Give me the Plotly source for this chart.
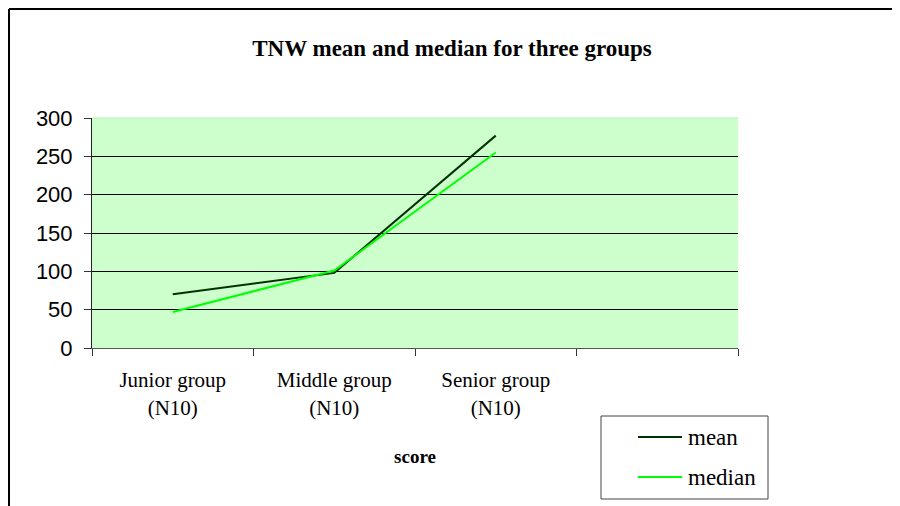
import plotly.graph_objects as go

# =====================================================
# DATA
# =====================================================

groups = ["Junior group<br>(N10)", "Middle group<br>(N10)", "Senior group<br>(N10)"]
slots = groups + [" "]

mean_vals = [70, 98, 277]
median_vals = [47, 101, 255]

series_names = ["mean", "median"]
series_colors = ["#003300", "#00FF00"]

# page offset (browser body margin) and figure size
OFF = 8
W, H = 900 - OFF, 506 - OFF

# plot area in page pixels
L, R, T, B = 92, 738, 118, 348


def px(x):
    return (x - L) / (R - L)


def py(y):
    return (B - y) / (B - T)


SERIF = "Liberation Serif, Times New Roman, serif"
SANS = "Liberation Sans, Arial, sans-serif"

fig = go.Figure()

for name, vals, col in zip(series_names, [mean_vals, median_vals], series_colors):
    fig.add_trace(
        go.Scatter(
            x=groups,
            y=vals,
            mode="lines",
            name=name,
            line=dict(color=col, width=2),
            showlegend=False,
        )
    )

# =====================================================
# LAYOUT
# =====================================================

fig.update_layout(
    width=W,
    height=H,
    margin=dict(l=L - OFF, r=W - (R - OFF), t=T - OFF, b=H - (B - OFF)),
    paper_bgcolor="white",
    plot_bgcolor="#CCFFCC",
    title=dict(
        text="<b>TNW mean and median for three groups</b>",
        x=(452 - OFF) / W,
        xanchor="center",
        y=1 - (48 - OFF) / H,
        yanchor="middle",
        font=dict(family=SERIF, size=23, color="black"),
    ),
    xaxis=dict(
        type="category",
        categoryorder="array",
        categoryarray=slots,
        range=[-0.5, 3.5],
        tickson="boundaries",
        ticks="outside",
        ticklen=7,
        tickcolor="#333333",
        showgrid=False,
        showline=True,
        linecolor="#555555",
        linewidth=1,
        tickfont=dict(family=SERIF, size=21, color="black"),
        ticklabelstandoff=13,
        title=dict(
            text="<b>score</b>",
            font=dict(family=SERIF, size=19, color="black"),
            standoff=31,
        ),
        zeroline=False,
    ),
    yaxis=dict(
        range=[0, 300],
        tickvals=[0, 50, 100, 150, 200, 250, 300],
        ticks="outside",
        ticklen=7,
        tickcolor="#333333",
        showline=True,
        linecolor="#222222",
        linewidth=1,
        showgrid=True,
        gridcolor="black",
        gridwidth=1,
        zeroline=False,
        tickfont=dict(family=SANS, size=22, color="black"),
        ticklabelstandoff=7,
    ),
)

shapes = [
    # outer chart border (top and left)
    dict(type="line", xref="paper", yref="paper",
         x0=px(9), x1=px(905), y0=py(9), y1=py(9),
         line=dict(color="black", width=2)),
    dict(type="line", xref="paper", yref="paper",
         x0=px(9), x1=px(9), y0=py(9), y1=py(510),
         line=dict(color="black", width=2)),
    # plot area top edge
    dict(type="line", xref="paper", yref="paper",
         x0=0, x1=1, y0=1, y1=1,
         line=dict(color="#B8F0B8", width=1)),
    # legend box
    dict(type="rect", xref="paper", yref="paper",
         x0=px(601), x1=px(768), y0=py(416), y1=py(499),
         line=dict(color="#444444", width=1), fillcolor="white"),
]

annotations = []
legend_y = [437, 477]
for name, col, ly in zip(series_names, series_colors, legend_y):
    shapes.append(
        dict(type="line", xref="paper", yref="paper",
             x0=px(638), x1=px(682), y0=py(ly), y1=py(ly),
             line=dict(color=col, width=2))
    )
    annotations.append(
        dict(xref="paper", yref="paper", x=px(686), y=py(ly),
             xanchor="left", yanchor="middle", showarrow=False,
             text=name, font=dict(family=SERIF, size=23, color="black"))
    )

fig.update_layout(shapes=shapes, annotations=annotations)

fig.write_html("out.html")
